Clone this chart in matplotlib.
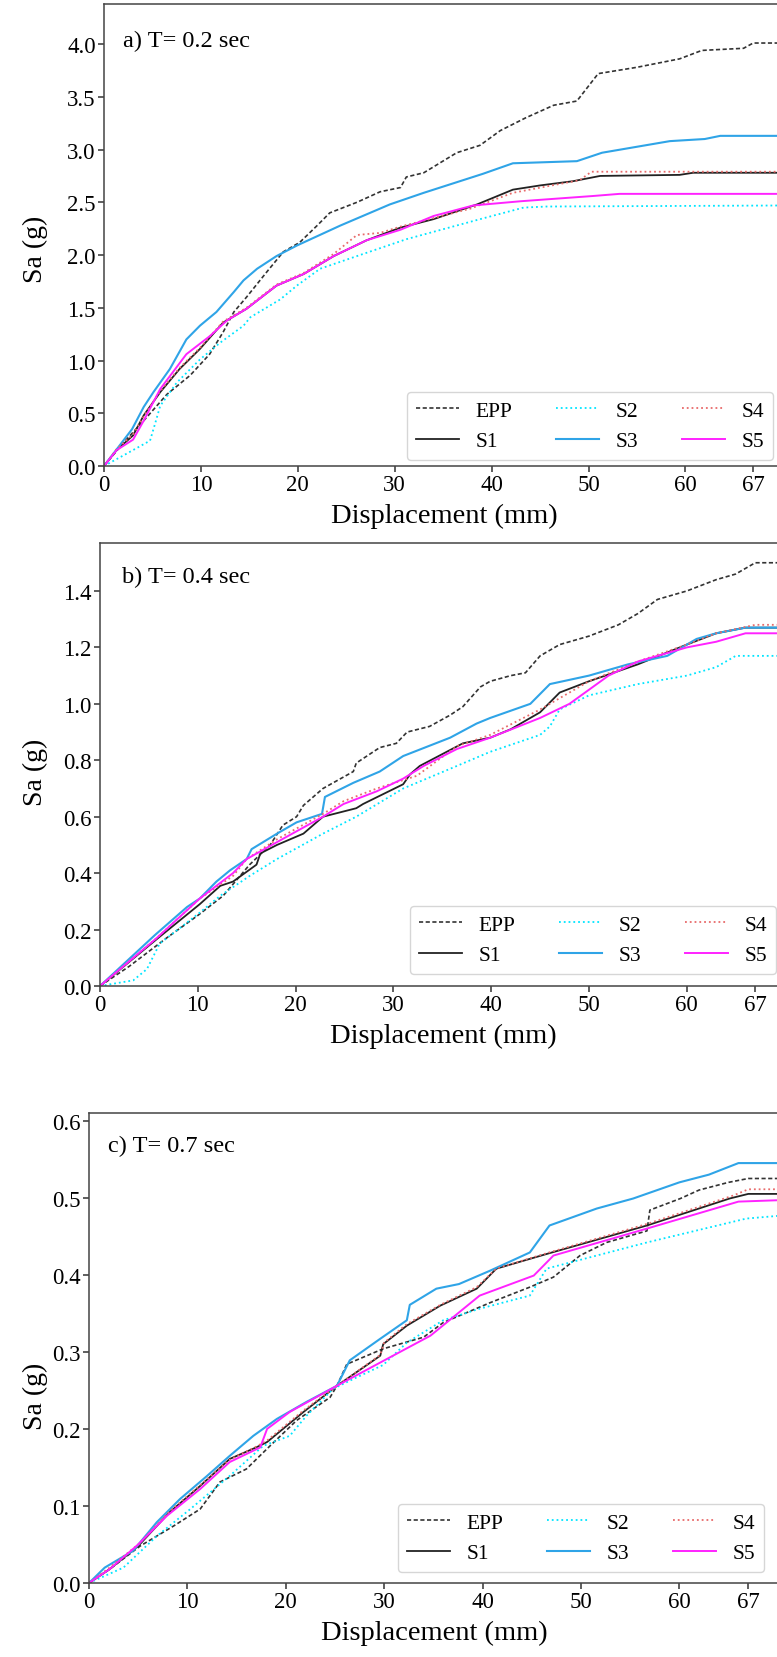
import matplotlib
matplotlib.use("Agg")
import matplotlib.pyplot as plt

plt.rcParams["font.family"] = ["Liberation Serif", "DejaVu Serif"]

# x ticks shared by all three panels
x_ticks = [0, 10, 20, 30, 40, 50, 60, 67]
series_names = ["EPP", "S1", "S2", "S3", "S4", "S5"]

# ---- panel a) T = 0.2 sec ----
a_epp_x = [0, 2.0, 4.1, 6.5, 8.9, 10.9, 12.3, 13.4, 14.7, 16.8, 18.5, 20.2, 22.0, 23.3, 26.1, 28.5, 30.6, 31.2,
           33.0, 36.4, 38.8, 40.9, 43.5, 46.4, 48.8, 51.0, 55.0, 59.4, 61.7, 66.0, 67.0, 70.5]
a_epp_y = [0, 0.22, 0.43, 0.68, 0.86, 1.06, 1.27, 1.46, 1.60, 1.84, 2.03, 2.12, 2.28, 2.40, 2.50, 2.60, 2.64, 2.74,
           2.78, 2.97, 3.04, 3.18, 3.30, 3.42, 3.46, 3.72, 3.78, 3.86, 3.94, 3.96, 4.01, 4.01]
a_s1_x = [0, 1.3, 3.0, 4.1, 5.8, 7.8, 9.9, 12.3, 14.7, 17.8, 20.6, 23.7, 27.1, 30.6, 34.0, 38.5, 42.2, 45.0, 48.4,
          51.2, 59.4, 60.8, 70.5]
a_s1_y = [0, 0.15, 0.29, 0.48, 0.70, 0.92, 1.11, 1.36, 1.49, 1.71, 1.82, 1.99, 2.14, 2.26, 2.34, 2.48, 2.62, 2.66,
          2.70, 2.75, 2.76, 2.78, 2.78]
a_s2_x = [0, 2.0, 4.75, 5.3, 5.8, 7.5, 9.9, 12.0, 14.4, 15.1, 18.2, 19.9, 22.3, 26.1, 31.2, 36.4, 38.8, 43.3, 45.7,
          70.5]
a_s2_y = [0, 0.10, 0.24, 0.41, 0.57, 0.79, 1.01, 1.17, 1.33, 1.41, 1.58, 1.71, 1.87, 1.99, 2.15, 2.28, 2.34, 2.45,
          2.46, 2.47]
a_s3_x = [0, 2.9, 4.1, 5.1, 6.8, 8.5, 9.9, 11.6, 13.4, 14.4, 15.8, 17.8, 19.9, 24.4, 29.5, 33.0, 39.1, 42.2, 48.8,
          51.4, 58.4, 62.0, 63.6, 70.5]
a_s3_y = [0, 0.35, 0.56, 0.70, 0.92, 1.20, 1.33, 1.46, 1.65, 1.76, 1.87, 1.99, 2.09, 2.28, 2.48, 2.59, 2.77, 2.87,
          2.89, 2.97, 3.08, 3.10, 3.13, 3.13]
a_s4_x = [0, 1.3, 3.0, 4.1, 5.8, 7.8, 9.9, 12.3, 14.7, 17.8, 20.6, 23.7, 26.1, 28.5, 30.6, 34.0, 37.8, 42.2, 49.1,
          50.3, 70.5]
a_s4_y = [0, 0.16, 0.30, 0.47, 0.71, 0.93, 1.12, 1.37, 1.50, 1.72, 1.83, 2.01, 2.19, 2.21, 2.27, 2.35, 2.44, 2.59,
          2.71, 2.79, 2.79]
a_s5_x = [0, 1.3, 3.0, 4.1, 5.8, 8.5, 10.9, 12.7, 14.7, 17.8, 20.6, 23.7, 27.1, 30.6, 34.0, 38.1, 43.0, 50.5, 53.2,
          70.5]
a_s5_y = [0, 0.15, 0.25, 0.43, 0.73, 1.06, 1.23, 1.38, 1.49, 1.71, 1.82, 1.99, 2.14, 2.24, 2.37, 2.47, 2.51, 2.56,
          2.58, 2.58]
a_yticks = [0.0, 0.5, 1.0, 1.5, 2.0, 2.5, 3.0, 3.5, 4.0]

# ---- panel b) T = 0.4 sec ----
b_epp_x = [0, 3.0, 6.8, 10.0, 12.6, 15.3, 17.4, 18.7, 20.1, 20.8, 22.8, 25.9, 26.2, 28.6, 30.3, 31.4, 33.7, 35.8,
           37.1, 38.9, 39.9, 42.0, 43.5, 45.0, 47.0, 50.0, 53.0, 55.0, 57.0, 60.0, 63.0, 65.0, 67.0, 70.5]
b_epp_y = [0, 0.07, 0.17, 0.25, 0.32, 0.43, 0.50, 0.57, 0.60, 0.64, 0.70, 0.76, 0.79, 0.845, 0.86, 0.90, 0.92, 0.96,
           0.99, 1.06, 1.08, 1.10, 1.11, 1.17, 1.21, 1.24, 1.28, 1.32, 1.37, 1.40, 1.44, 1.46, 1.50, 1.50]
b_s1_x = [0, 5.8, 10.2, 12.3, 13.6, 16.0, 16.4, 18.1, 20.8, 22.8, 24.5, 26.2, 26.9, 31.0, 31.7, 32.7, 37.1, 39.9,
          42.0, 45.0, 47.0, 50.0, 55.0, 60.0, 63.0, 66.0, 70.5]
b_s1_y = [0, 0.166, 0.29, 0.355, 0.37, 0.43, 0.47, 0.50, 0.54, 0.60, 0.615, 0.63, 0.645, 0.715, 0.75, 0.78, 0.86,
          0.88, 0.91, 0.97, 1.04, 1.08, 1.14, 1.21, 1.25, 1.27, 1.27]
b_s2_x = [0, 3.4, 4.8, 6.1, 10.2, 12.3, 15.3, 18.1, 22.8, 26.2, 31.0, 36.5, 39.9, 45.0, 46.0, 47.0, 50.0, 55.0, 60.0,
          63.0, 65.0, 70.5]
b_s2_y = [0, 0.02, 0.06, 0.15, 0.26, 0.32, 0.39, 0.45, 0.54, 0.60, 0.70, 0.78, 0.83, 0.89, 0.92, 0.98, 1.03, 1.07,
          1.10, 1.13, 1.17, 1.17]
b_s3_x = [0, 5.6, 8.9, 10.2, 11.9, 13.3, 15.0, 15.5, 18.1, 20.1, 22.7, 23.0, 25.9, 28.6, 31.0, 35.8, 38.5, 39.9,
          44.0, 46.0, 50.0, 54.0, 58.0, 61.0, 63.0, 66.0, 70.5]
b_s3_y = [0, 0.18, 0.28, 0.31, 0.37, 0.41, 0.45, 0.485, 0.54, 0.58, 0.61, 0.67, 0.72, 0.76, 0.815, 0.88, 0.93, 0.95,
          1.00, 1.07, 1.10, 1.14, 1.17, 1.23, 1.25, 1.27, 1.27]
b_s4_x = [0, 5.8, 10.2, 13.6, 15.0, 18.1, 22.8, 24.9, 28.3, 32.4, 36.5, 39.9, 45.0, 50.0, 55.0, 60.0, 63.0, 67.0,
          70.5]
b_s4_y = [0, 0.17, 0.31, 0.39, 0.45, 0.52, 0.61, 0.655, 0.70, 0.745, 0.85, 0.89, 0.98, 1.08, 1.15, 1.21, 1.25, 1.28,
          1.28]
b_s5_x = [0, 5.8, 10.2, 13.6, 15.0, 18.1, 22.8, 24.9, 28.3, 31.0, 33.1, 36.5, 39.9, 45.0, 48.0, 50.0, 52.0, 55.0,
          60.0, 63.0, 66.0, 70.5]
b_s5_y = [0, 0.17, 0.31, 0.40, 0.45, 0.51, 0.60, 0.645, 0.69, 0.735, 0.78, 0.84, 0.88, 0.95, 1.00, 1.05, 1.10, 1.15,
          1.20, 1.22, 1.25, 1.25]
b_yticks = [0.0, 0.2, 0.4, 0.6, 0.8, 1.0, 1.2, 1.4]

# ---- panel c) T = 0.7 sec ----
c_epp_x = [0, 2.1, 5.2, 8.6, 11.3, 13.3, 16.0, 18.4, 21.1, 24.5, 25.2, 26.2, 29.9, 34.0, 36.0, 40.8, 44.8, 47.2,
           49.9, 52.6, 56.7, 57.0, 60.1, 62.0, 65.0, 67.0, 70.5]
c_epp_y = [0, 0.018, 0.048, 0.074, 0.096, 0.131, 0.148, 0.178, 0.211, 0.241, 0.256, 0.284, 0.304, 0.319, 0.338,
           0.364, 0.384, 0.397, 0.425, 0.442, 0.457, 0.484, 0.499, 0.51, 0.52, 0.525, 0.525]
c_s1_x = [0, 2.1, 5.0, 8.2, 11.3, 14.3, 17.0, 18.1, 21.8, 25.2, 29.6, 29.9, 32.3, 35.7, 39.4, 41.4, 46.5, 56.7,
          65.1, 67.0, 70.5]
c_s1_y = [0, 0.018, 0.048, 0.092, 0.126, 0.161, 0.176, 0.183, 0.222, 0.256, 0.295, 0.31, 0.334, 0.36, 0.382, 0.408,
          0.427, 0.464, 0.499, 0.505, 0.505]
c_s2_x = [0, 3.5, 6.9, 10.3, 14.3, 17.7, 20.4, 22.1, 24.8, 26.9, 29.9, 32.3, 36.0, 39.7, 44.8, 46.5, 56.7, 66.8,
          70.5]
c_s2_y = [0, 0.02, 0.061, 0.096, 0.139, 0.178, 0.191, 0.217, 0.252, 0.265, 0.283, 0.312, 0.341, 0.356, 0.373, 0.408,
          0.442, 0.473, 0.477]
c_s3_x = [0, 1.6, 4.5, 6.9, 9.25, 12.0, 14.3, 16.7, 19.1, 22.1, 25.2, 26.5, 29.6, 32.3, 32.6, 35.3, 37.6, 40.7,
          44.8, 46.8, 51.6, 55.3, 60.0, 63.0, 66.0, 70.5]
c_s3_y = [0, 0.02, 0.042, 0.079, 0.109, 0.139, 0.165, 0.191, 0.213, 0.235, 0.256, 0.289, 0.317, 0.341, 0.361,
          0.382, 0.388, 0.405, 0.429, 0.464, 0.486, 0.499, 0.52, 0.53, 0.545, 0.545]
c_s4_x = [0, 2.1, 5.0, 8.2, 11.3, 14.3, 17.0, 18.1, 21.8, 25.2, 29.6, 30.0, 32.3, 35.7, 39.4, 41.4, 46.5, 56.7,
          65.5, 67.0, 70.5]
c_s4_y = [0, 0.02, 0.05, 0.093, 0.127, 0.16, 0.177, 0.185, 0.224, 0.256, 0.296, 0.312, 0.336, 0.361, 0.384, 0.408,
          0.428, 0.466, 0.503, 0.511, 0.511]
c_s5_x = [0, 2.1, 5.0, 7.9, 11.3, 14.3, 17.4, 18.1, 20.4, 25.2, 30.6, 34.7, 39.7, 45.2, 47.2, 56.7, 66.0, 70.5]
c_s5_y = [0, 0.018, 0.05, 0.087, 0.122, 0.157, 0.176, 0.20, 0.222, 0.256, 0.293, 0.321, 0.373, 0.399, 0.425, 0.46,
          0.495, 0.497]
c_yticks = [0.0, 0.1, 0.2, 0.3, 0.4, 0.5, 0.6]

# line styles in legend order
styles = {
    "EPP": dict(color="#333333", linestyle=(0, (2.5, 1.5)), lw=1.2),
    "S1": dict(color="#222222", linestyle="-", lw=1.3),
    "S2": dict(color="#00e5ff", linestyle=":", lw=1.3),
    "S3": dict(color="#2fa4e7", linestyle="-", lw=1.5),
    "S4": dict(color="#e86a6a", linestyle=":", lw=1.3),
    "S5": dict(color="#ff22ff", linestyle="-", lw=1.4),
}

W, H = 777, 1658
fig = plt.figure(figsize=(W / 100, H / 100), dpi=100)


# Draw one panel. Box given in pixels (left, top, bottom, px per mm).
def draw_panel(box, xs, ys, yticks, ylim, title, title_pos, ylab_y, leg_pos):
    left, top, bottom, ppm = box
    width = ppm * 70.5
    ax = fig.add_axes([left / W, 1 - bottom / H, width / W, (bottom - top) / H])
    for name, x, y in zip(series_names, xs, ys):
        ax.plot(x, y, label=name, **styles[name])
    ax.set_xlim(0, 70.5)
    ax.set_ylim(*ylim)
    ax.set_xticks(x_ticks)
    ax.set_yticks(yticks)
    ax.set_yticklabels([f"{t:.1f}" for t in yticks])
    ax.tick_params(labelsize=16.5, length=4, width=1.1, pad=2, color="#333333")
    for sp in ax.spines.values():
        sp.set_color("#444444")
        sp.set_linewidth(1.1)
    ax.text(title_pos[0], title_pos[1], title, transform=ax.transAxes, fontsize=17.5, va="center")
    ax.set_xlabel("Displacement (mm)", fontsize=20.5)
    ax.xaxis.set_label_coords(0.498, -49 / (bottom - top))
    ax.xaxis.label.set_va("center")
    ax.set_ylabel("Sa (g)", fontsize=20)
    ax.yaxis.set_label_coords((35 - left) / width, ylab_y)
    ax.yaxis.label.set_va("center")
    ax.legend(ncol=3, fontsize=15.5, loc="lower left",
              bbox_to_anchor=(leg_pos[0] / W, 1 - leg_pos[1] / H),
              bbox_transform=fig.transFigure, borderaxespad=0)
    return ax


draw_panel((104, 5, 467, 9.69),
           [a_epp_x, a_s1_x, a_s2_x, a_s3_x, a_s4_x, a_s5_x],
           [a_epp_y, a_s1_y, a_s2_y, a_s3_y, a_s4_y, a_s5_y],
           a_yticks, (0, 4.38), "a) T= 0.2 sec", (0.028, 0.922), 0.47, (407, 461))

draw_panel((100, 544, 987, 9.78),
           [b_epp_x, b_s1_x, b_s2_x, b_s3_x, b_s4_x, b_s5_x],
           [b_epp_y, b_s1_y, b_s2_y, b_s3_y, b_s4_y, b_s5_y],
           b_yticks, (0, 1.57), "b) T= 0.4 sec", (0.032, 0.925), 0.485, (410, 975))

draw_panel((89, 1114, 1584, 9.84),
           [c_epp_x, c_s1_x, c_s2_x, c_s3_x, c_s4_x, c_s5_x],
           [c_epp_y, c_s1_y, c_s2_y, c_s3_y, c_s4_y, c_s5_y],
           c_yticks, (0, 0.61), "c) T= 0.7 sec", (0.027, 0.932), 0.40, (398, 1573))

fig.savefig("out.png", dpi=100)
